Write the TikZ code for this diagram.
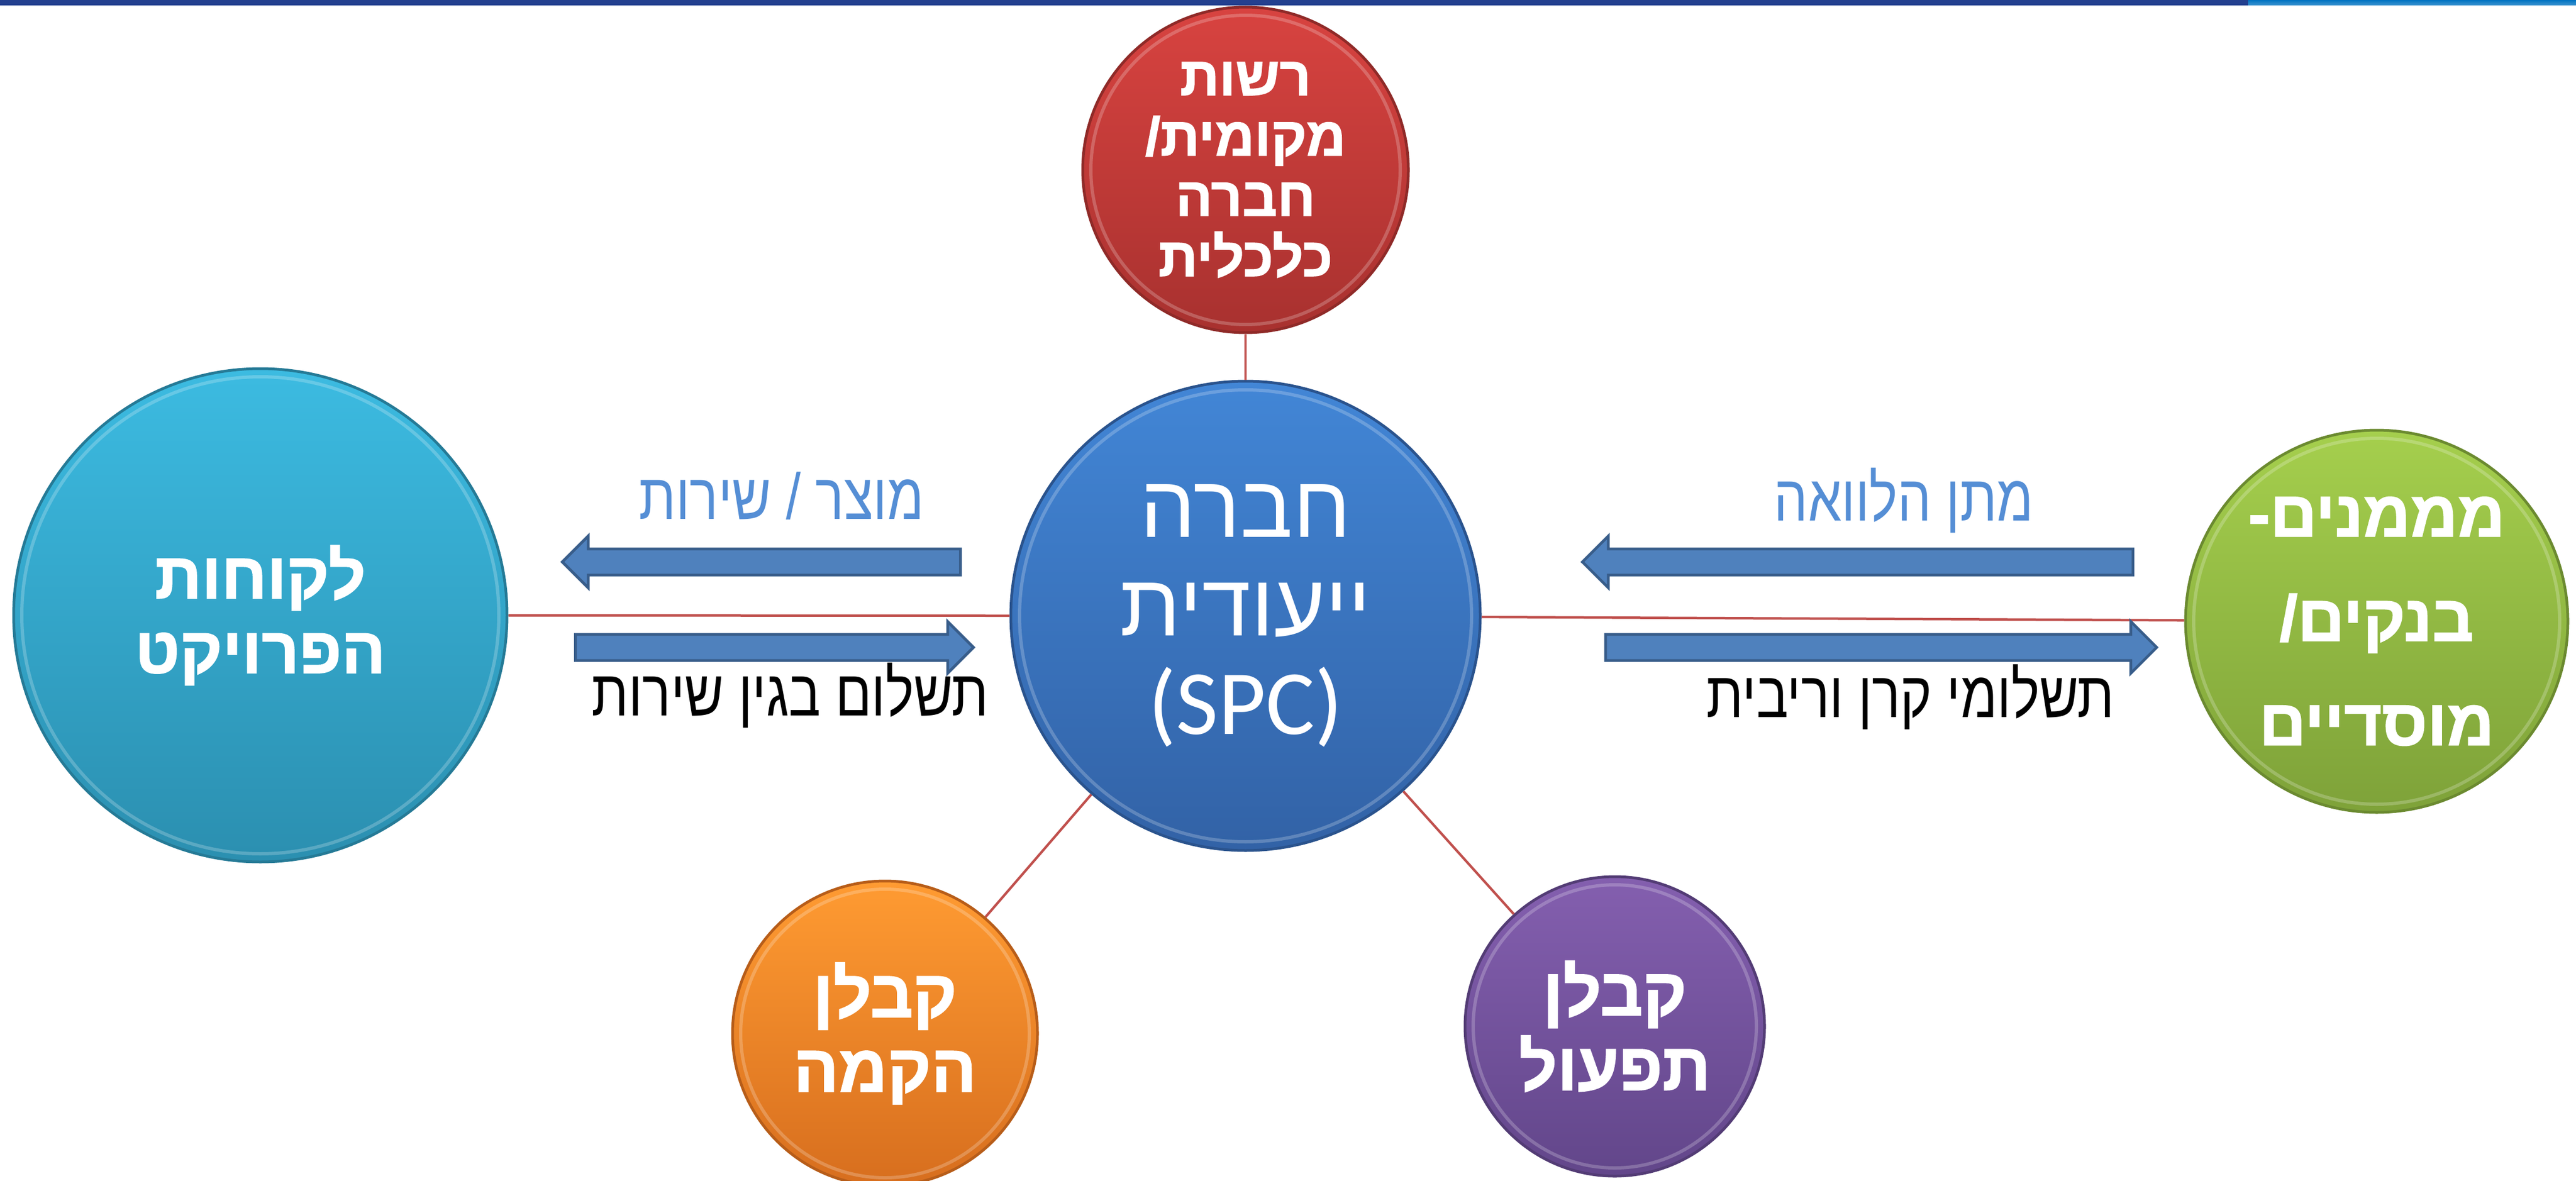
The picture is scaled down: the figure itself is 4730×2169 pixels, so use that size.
\documentclass[tikz,border=0pt]{standalone}
\usepackage{fontspec}
\setmainfont{Carlito}
\newfontfamily\hebfont[Script=Hebrew]{Liberation Sans}
\newfontfamily\hebbold[Script=Hebrew,FakeBold=1.6]{Liberation Sans Bold}
\newfontfamily\hebnarrow[Script=Hebrew,FakeStretch=0.82]{Liberation Sans}
\TeXXeTstate=1
\usetikzlibrary{shapes.arrows,shadings}

\definecolor{barblue}{RGB}{35,64,143}
\definecolor{barlight}{RGB}{0,114,193}
\definecolor{linkred}{RGB}{192,80,77}
\definecolor{arrowfill}{RGB}{79,129,189}
\definecolor{arrowedge}{RGB}{56,93,138}
\definecolor{labelblue}{RGB}{85,142,213}
\definecolor{redtop}{RGB}{216,67,64}
\definecolor{redbot}{RGB}{168,49,47}
\definecolor{bluetop}{RGB}{66,134,214}
\definecolor{bluebot}{RGB}{50,98,166}
\definecolor{cyantop}{RGB}{60,187,225}
\definecolor{cyanbot}{RGB}{43,143,176}
\definecolor{greentop}{RGB}{165,207,77}
\definecolor{greenbot}{RGB}{126,162,57}
\definecolor{orangetop}{RGB}{255,155,50}
\definecolor{orangebot}{RGB}{215,110,30}
\definecolor{purpletop}{RGB}{132,95,175}
\definecolor{purplebot}{RGB}{98,70,138}

\newcommand{\heb}[1]{\beginR #1\endR}

\begin{document}
\begin{tikzpicture}[x=0.1mm,y=-0.1mm]
\tikzset{bubble/.style={circle, inner sep=0pt, align=center, text=white, line width=0.5mm},
  rim/.style={path picture={\draw[white, opacity=0.22, line width=0.6mm] (path picture bounding box.center) circle [radius=#1];}},
  link/.style={draw=linkred, line width=0.45mm},
  blockarrow/.style={single arrow, fill=arrowfill, draw=arrowedge, line width=0.5mm, inner xsep=0pt, inner ysep=2.15mm,
    single arrow head extend=2.35mm, single arrow head indent=0pt},
  flowtext/.style={font=\hebnarrow\fontsize{34}{36}\selectfont, anchor=base}}
\path[use as bounding box, clip] (0,0) rectangle (4730,2169);
% top bar
\fill[barblue] (0,0) rectangle (4128,10);
\shade[top color=barlight, bottom color=barlight!75!white] (4128,0) rectangle (4730,10);
% circles
\node[bubble, rim=41.5mm, minimum size=86.2mm, top color=bluetop, bottom color=bluebot, draw=bluebot!85!black,
  font=\fontsize{48}{51.5}\selectfont] (spc) at (2287,1131)
  {{\hebfont\fontsize{46}{51.5}\selectfont\heb{חברה}}\\{\hebfont\fontsize{46}{51.5}\selectfont\heb{ייעודית}}\\(SPC)};
\node[bubble, rim=28.4mm, minimum size=59.8mm, top color=redtop, bottom color=redbot, draw=redbot!85!black,
  font=\hebbold\fontsize{28.5}{31.5}\selectfont] (auth) at (2287,312)
  {\heb{רשות}\\\heb{מקומית/}\\\heb{חברה}\\\heb{כלכלית}};
\node[bubble, rim=43.8mm, minimum size=90.6mm, top color=cyantop, bottom color=cyanbot, draw=cyanbot!85!black,
  font=\hebbold\fontsize{34}{39}\selectfont] (cust) at (478,1130)
  {\heb{לקוחות}\\\heb{הפרויקט}};
\node[bubble, rim=33.6mm, minimum size=70.2mm, top color=greentop, bottom color=greenbot, draw=greenbot!85!black,
  font=\hebbold\fontsize{34}{54.5}\selectfont] (fund) at (4364,1141)
  {\heb{מממנים-}\\\heb{בנקים/}\\\heb{מוסדיים}};
\node[bubble, rim=26.5mm, minimum size=56mm, top color=orangetop, bottom color=orangebot, draw=orangebot!85!black,
  font=\hebbold\fontsize{35}{39}\selectfont] (build) at (1625,1898)
  {\heb{קבלן}\\\heb{הקמה}};
\node[bubble, rim=26mm, minimum size=55mm, top color=purpletop, bottom color=purplebot, draw=purplebot!85!black,
  font=\hebbold\fontsize{35}{39}\selectfont] (oper) at (2965,1885)
  {\heb{קבלן}\\\heb{תפעול}};
% connectors
\draw[link] (spc) -- (auth);
\draw[link] (spc) -- (cust);
\draw[link] (spc) -- (fund);
\draw[link] (spc) -- (build);
\draw[link] (spc) -- (oper);
% flows
\node[blockarrow, minimum height=73.1mm, shape border rotate=180] (prodarrow) at (1410,1032) {};
\node[blockarrow, minimum height=73.1mm] (payarrow) at (1410,1189) {};
\node[blockarrow, minimum height=101.1mm, shape border rotate=180] (loanarrow) at (3423,1032) {};
\node[blockarrow, minimum height=101.2mm] (repayarrow) at (3442,1189) {};
\node[flowtext, text=labelblue] (prodlabel) at (1435,953) {\heb{מוצר / שירות}};
\node[flowtext] (paylabel) at (1451,1314) {\heb{תשלום בגין שירות}};
\node[flowtext, text=labelblue] (loanlabel) at (3496,956) {\heb{מתן הלוואה}};
\node[flowtext] (repaylabel) at (3508,1317) {\heb{תשלומי קרן וריבית}};
\end{tikzpicture}
\end{document}
